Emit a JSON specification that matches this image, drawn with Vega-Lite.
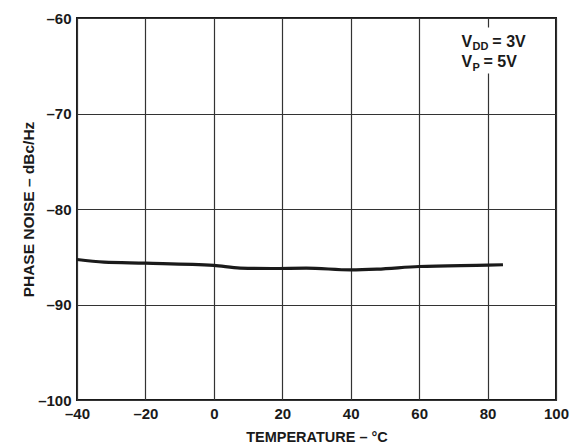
{
  "$schema": "https://vega.github.io/schema/vega-lite/v6.json",
  "width": 479,
  "height": 382,
  "autosize": {"type": "none"},
  "padding": {"left": 77, "top": 18, "right": 23, "bottom": 47},
  "background": "white",
  "config": {
    "view": {"stroke": "#1a1a1a", "strokeWidth": 2},
    "font": "Liberation Sans",
    "axis": {
      "labelFont": "Liberation Sans",
      "labelFontWeight": "bold",
      "labelFontSize": 15,
      "labelColor": "#1a1a1a",
      "titleFont": "Liberation Sans",
      "titleFontWeight": "bold",
      "titleFontSize": 14.5,
      "titleColor": "#1a1a1a",
      "ticks": false,
      "domain": false,
      "gridColor": "#333333",
      "gridWidth": 1.2,
      "gridOpacity": 1
    }
  },
  "datasets": {
    "curve": [
      {"temp": -40, "noise": -85.29},
      {"temp": -32.1, "noise": -85.57},
      {"temp": -20, "noise": -85.67},
      {"temp": 0, "noise": -85.91},
      {"temp": 7.7, "noise": -86.19},
      {"temp": 17, "noise": -86.23},
      {"temp": 27, "noise": -86.19},
      {"temp": 40, "noise": -86.37},
      {"temp": 47.7, "noise": -86.3},
      {"temp": 60, "noise": -86.02},
      {"temp": 80, "noise": -85.88},
      {"temp": 84.5, "noise": -85.84}
    ],
    "box": [
      {"t1": 72, "t2": 92, "v1": -61.0, "v2": -65.8}
    ],
    "note": [
      {"temp": 72.4, "noise": -63.0, "txt": "V", "size": 16},
      {"temp": 75.6, "noise": -63.3, "txt": "DD", "size": 11},
      {"temp": 81.4, "noise": -63.0, "txt": "= 3V", "size": 16},
      {"temp": 72.4, "noise": -65.09, "txt": "V", "size": 16},
      {"temp": 75.6, "noise": -65.5, "txt": "P", "size": 11},
      {"temp": 78.8, "noise": -65.09, "txt": "= 5V", "size": 16}
    ]
  },
  "layer": [
    {
      "data": {"name": "curve"},
      "mark": {"type": "line", "color": "#1a1a1a", "strokeWidth": 3.2, "interpolate": "monotone"},
      "encoding": {
        "x": {
          "field": "temp", "type": "quantitative",
          "scale": {"domain": [-40, 100], "nice": false, "zero": false},
          "axis": {
            "values": [-40, -20, 0, 20, 40, 60, 80, 100],
            "grid": true,
            "labelPadding": 6,
            "labelFlush": false,
            "labelExpr": "datum.value < 0 ? '–' + abs(datum.value) : '' + datum.value",
            "title": "TEMPERATURE – °C",
            "titlePadding": 9
          }
        },
        "y": {
          "field": "noise", "type": "quantitative",
          "scale": {"domain": [-100, -60], "nice": false, "zero": false},
          "axis": {
            "values": [-100, -90, -80, -70, -60],
            "grid": true,
            "labelPadding": 6,
            "labelFlush": false,
            "labelExpr": "datum.value < 0 ? '–' + abs(datum.value) : '' + datum.value",
            "title": "PHASE NOISE – dBc/Hz",
            "titleFontSize": 15.5,
            "titlePadding": 1
          }
        }
      }
    },
    {
      "data": {"name": "box"},
      "mark": {"type": "rect", "color": "white"},
      "encoding": {
        "x": {"field": "t1", "type": "quantitative"},
        "x2": {"field": "t2"},
        "y": {"field": "v1", "type": "quantitative"},
        "y2": {"field": "v2"}
      }
    },
    {
      "data": {"name": "note"},
      "mark": {"type": "text", "align": "left", "baseline": "alphabetic", "fontWeight": "bold", "font": "Liberation Sans", "color": "#1a1a1a"},
      "encoding": {
        "x": {"field": "temp", "type": "quantitative"},
        "y": {"field": "noise", "type": "quantitative"},
        "text": {"field": "txt"},
        "size": {"field": "size", "type": "quantitative", "scale": null, "legend": null}
      }
    }
  ]
}
